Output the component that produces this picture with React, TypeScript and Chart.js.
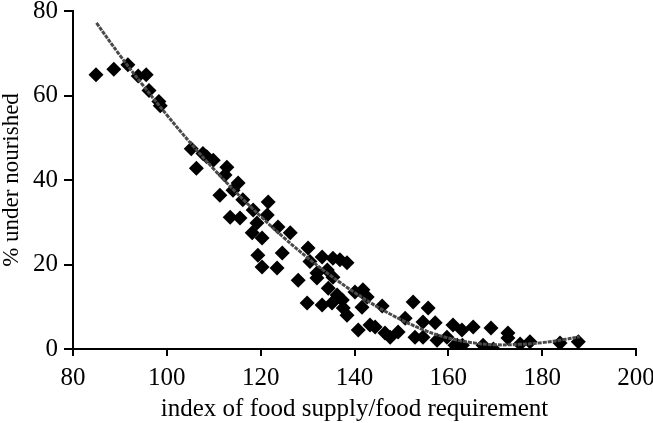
import React, { useEffect, useRef } from "react";
import { Chart, registerables } from "chart.js";

Chart.register(...registerables);

// Scatter observations: index of food supply / food requirement vs % under nourished
const supplyIndex = [
  84.9, 88.7, 91.7, 93.9, 95.6, 96.2, 98.3, 98.6, 105.2, 107.7,
  106.3, 109.9, 108.5, 112.8, 112.4, 115.2, 111.3, 114.1, 116.2, 121.6,
  118.4, 113.5, 115.6, 121.4, 119.2, 118.2, 120.3, 123.7, 126.3, 119.4,
  124.6, 120.3, 123.5, 130.1, 130.5, 133.1, 135.4, 136.9, 138.4, 134.2,
  132.0, 128.0, 135.4, 132.0, 134.4, 136.3, 137.4, 129.9, 133.1, 135.2,
  137.6, 138.4, 140.1, 141.8, 142.7, 141.6, 145.9, 140.8, 143.3, 144.4,
  146.5, 147.6, 149.3, 150.8, 152.5, 155.7, 154.6, 152.9, 154.6, 157.2,
  157.6, 159.7, 161.0, 161.4, 162.9, 165.3, 161.9, 163.0, 169.1, 172.7,
  172.7, 167.4, 169.6, 175.3, 177.4, 183.8, 187.7,
];
const underNourished = [
  64.9, 66.2, 67.3, 64.6, 64.9, 61.2, 58.6, 57.6, 47.4, 46.3,
  42.8, 44.7, 45.5, 43.0, 41.2, 39.3, 36.4, 37.6, 35.3, 34.8,
  32.9, 31.2, 31.0, 31.7, 29.8, 27.5, 26.3, 28.9, 27.5, 22.2,
  22.7, 19.4, 19.2, 23.9, 20.7, 21.8, 21.5, 21.1, 20.4, 18.7,
  18.0, 16.3, 17.0, 16.8, 14.4, 12.8, 11.6, 10.9, 10.4, 10.9,
  9.7, 8.0, 13.5, 14.0, 12.3, 9.9, 10.2, 4.5, 5.7, 5.2,
  3.8, 2.8, 4.0, 7.3, 11.1, 9.7, 6.4, 2.8, 2.8, 6.2,
  2.1, 2.8, 5.7, 0.9, 4.5, 5.2, 0.9, 0.9, 5.0, 3.8,
  2.6, 0.9, 0.0, 1.2, 1.7, 1.4, 1.7,
];

// Fitted trend line
const trendX = [85, 90, 95, 100, 105, 110, 115, 120, 125, 130, 135, 140, 145, 150, 155, 160, 165, 170, 175, 180, 185, 188];
const trendY = [77.2, 69.5, 62.3, 55.4, 48.8, 42.6, 36.8, 31.4, 26.3, 21.6, 17.3, 13.4, 9.9, 6.9, 4.4, 2.6, 1.5, 1.0, 1.1, 1.5, 2.3, 2.9];

const xTitle = "index of food supply/food requirement";
const yTitle = "% under nourished";

const FONT = "'Liberation Serif', 'Times New Roman', serif";

export default function App() {
  const ref = useRef<HTMLCanvasElement | null>(null);

  useEffect(() => {
    if (!ref.current) return;
    const scatterData = supplyIndex.map((x, i) => ({ x, y: underNourished[i] }));
    const trendData = trendX.map((x, i) => ({ x, y: trendY[i] }));

    const chart = new Chart(ref.current, {
      type: "scatter",
      data: {
        datasets: [
          {
            type: "line",
            data: trendData,
            borderColor: "#4a4a4a",
            borderWidth: 3,
            borderDash: [4, 1],
            pointRadius: 0,
            tension: 0.4,
            fill: false,
            order: 0,
          } as any,
          {
            type: "scatter",
            data: scatterData,
            pointStyle: "rectRot",
            pointRadius: 7.5,
            backgroundColor: "#000000",
            borderColor: "#000000",
            borderWidth: 0,
            order: 1,
          } as any,
        ],
      },
      options: {
        responsive: false,
        animation: false,
        layout: { padding: { top: 11, right: 17, left: 0, bottom: 0 } },
        plugins: { legend: { display: false }, tooltip: { enabled: false } },
        scales: {
          x: {
            type: "linear",
            min: 80,
            max: 200,
            ticks: { stepSize: 20, color: "#000", font: { family: FONT, size: 25 }, padding: 7 },
            grid: { display: true, drawOnChartArea: false, drawTicks: true, tickLength: 7, color: "#000", lineWidth: 2 },
            border: { display: true, color: "#000", width: 2 },
            title: {
              display: true,
              text: xTitle,
              color: "#000",
              font: { family: FONT, size: 25, lineHeight: 1 },
              padding: { top: 0, bottom: 1 },
            },
            afterFit: (s: any) => {
              s.height = 74;
              s.paddingLeft = 0;
              s.paddingRight = 0;
            },
          },
          y: {
            type: "linear",
            min: 0,
            max: 80,
            ticks: { stepSize: 20, color: "#000", font: { family: FONT, size: 25 }, padding: 6 },
            grid: { display: true, drawOnChartArea: false, drawTicks: true, tickLength: 9, color: "#000", lineWidth: 2 },
            border: { display: true, color: "#000", width: 2 },
            title: {
              display: true,
              text: yTitle,
              color: "#000",
              font: { family: FONT, size: 23, lineHeight: 1 },
              padding: { top: 0, bottom: 0 },
            },
            afterFit: (s: any) => {
              s.width = 73;
              s.paddingTop = 0;
              s.paddingBottom = 0;
            },
          },
        },
      } as any,
    });
    return () => chart.destroy();
  }, []);

  return (
    <div style={{ position: "absolute", left: 0, top: 0, width: 653, height: 423, background: "#fff" }}>
      <canvas ref={ref} width={653} height={423} />
    </div>
  );
}
